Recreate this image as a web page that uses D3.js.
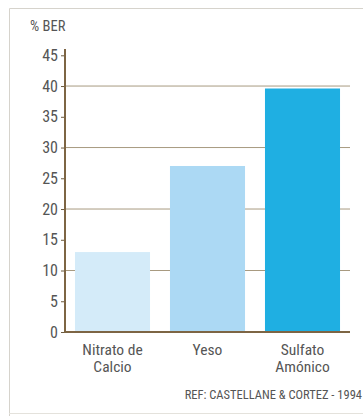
<!DOCTYPE html>
<html><head><meta charset="utf-8">
<script src="https://cdn.jsdelivr.net/npm/d3@7"></script>
<style>body{margin:0;background:#fff;}svg{display:block;}</style>
</head><body>
<script>
const categories = [["Nitrato de","Calcio"],["Yeso"],["Sulfato","Amónico"]];
const values = [13, 27, 39.6];
const barColors = ["#d4ebf9","#acd9f4","#1fafe2"];
const yTicks = [0,5,10,15,20,25,30,35,40,45];
const gridValues = [10,20,30,40];
const yLabel = "% BER";
const refText = "REF: CASTELLANE & CORTEZ - 1994";

const W = 363, H = 416;
const svg = d3.select("body").append("svg").attr("width", W).attr("height", H);
const font = "'Liberation Sans Narrow','Roboto Condensed','Open Sans',sans-serif";
const txtColor = "#555";

// frame
svg.append("path").attr("d", "M9.5,416 V8.5 H363").attr("fill","none").attr("stroke","#d6d3cc").attr("stroke-width",1);
svg.append("line").attr("x1",9).attr("x2",363).attr("y1",413.5).attr("y2",413.5).attr("stroke","#e4e2dc");

const x0 = 65, x1 = 350, yTop = 55.3, yBot = 332;
const x = d3.scaleBand().domain(d3.range(categories.length)).range([x0, x1]).paddingInner(0.21).paddingOuter(0.105);
const y = d3.scaleLinear().domain([0,45]).range([yBot, yTop]);

// grid
svg.append("g").selectAll("line").data(gridValues).join("line")
  .attr("x1", x0).attr("x2", x1).attr("y1", d=>y(d)).attr("y2", d=>y(d))
  .attr("stroke","#a89a80").attr("stroke-width",1);

// bars
svg.append("g").selectAll("rect").data(values).join("rect")
  .attr("x", (d,i)=>x(i)).attr("width", x.bandwidth())
  .attr("y", d=>y(d)).attr("height", d=>yBot - y(d))
  .attr("fill", (d,i)=>barColors[i]);

// y axis
const yAxis = d3.axisLeft(y).tickValues(yTicks).tickSize(4).tickPadding(3);
const gy = svg.append("g").attr("transform", `translate(${x0},0)`).call(yAxis);
gy.select(".domain").remove();
gy.selectAll(".tick line").attr("stroke","#6b5a3e").attr("stroke-width",1);
gy.selectAll(".tick text").attr("font-family", font).attr("font-size", 16).attr("fill",txtColor);
svg.append("line").attr("x1",x0).attr("x2",x0).attr("y1",49).attr("y2",yBot+1)
  .attr("stroke","#7d6544").attr("stroke-width",2);
svg.append("line").attr("x1",x0-1).attr("x2",x1).attr("y1",yBot).attr("y2",yBot)
  .attr("stroke","#7d6544").attr("stroke-width",2);

// category labels
const gx = svg.append("g");
categories.forEach((lines,i)=>{
  const t = gx.append("text").attr("x", x(i)+x.bandwidth()/2).attr("y", 355)
    .attr("text-anchor","middle").attr("font-family", font).attr("font-size", 15.5).attr("fill",txtColor);
  lines.forEach((l,j)=>t.append("tspan").attr("x", x(i)+x.bandwidth()/2).attr("dy", j===0?0:17).text(l));
});

svg.append("text").attr("x",30).attr("y",31).attr("font-family",font).attr("font-size",14.5).attr("fill",txtColor).text(yLabel);
svg.append("text").attr("x",362).attr("y",399).attr("text-anchor","end").attr("font-family",font).attr("font-size",12.5).attr("fill",txtColor).text(refText);
</script>
</body></html>
